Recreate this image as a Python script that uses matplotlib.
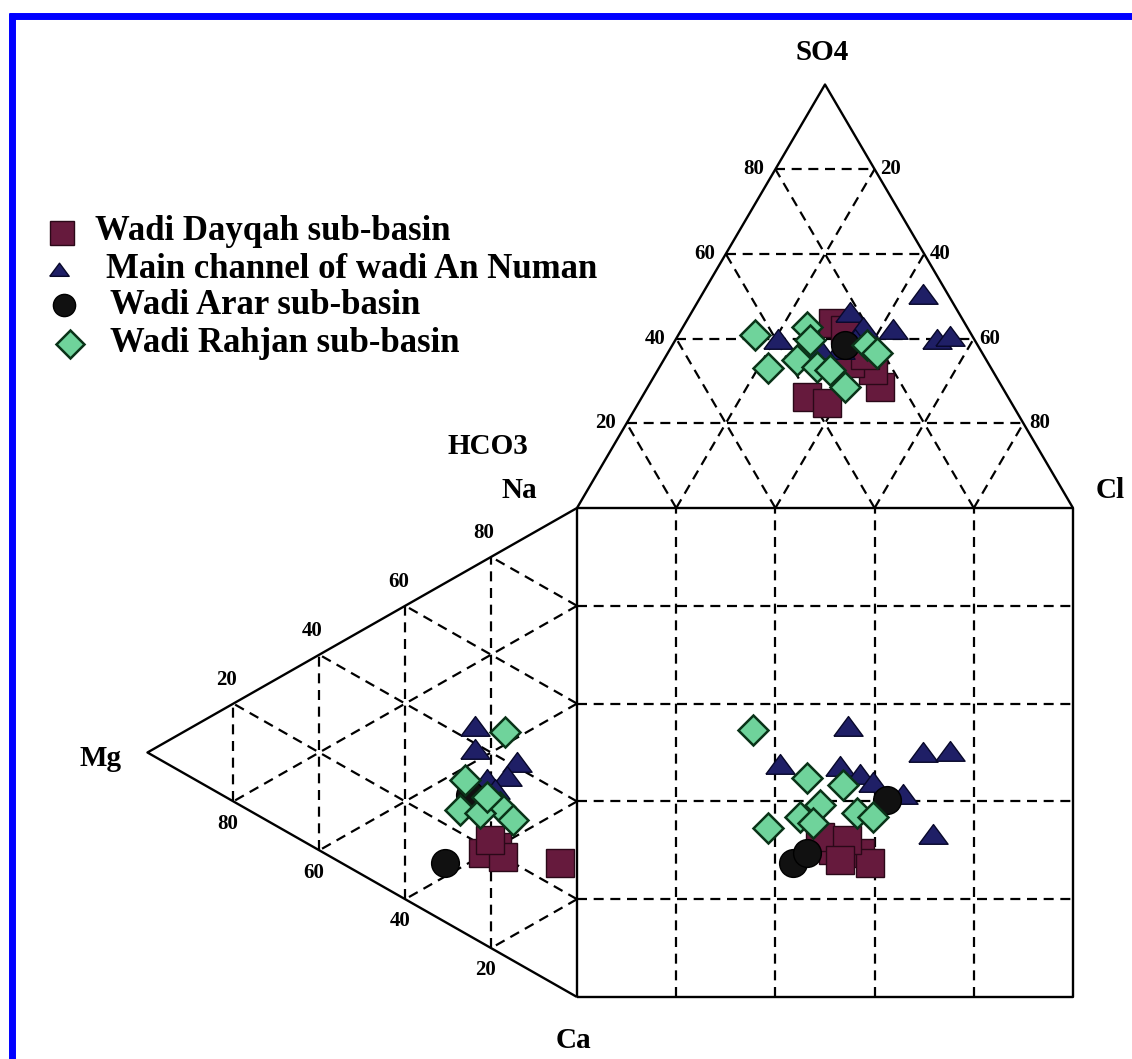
import numpy as np
import matplotlib
matplotlib.use("Agg")
import matplotlib.pyplot as plt
from matplotlib.lines import Line2D

series_names = ["Wadi Dayqah sub-basin", "Main channel of wadi An Numan",
                "Wadi Arar sub-basin", "Wadi Rahjan sub-basin"]

# anion triangle values (SO4 %, Cl %)
dayqah_so4 = [43.7, 26.2, 24.8, 28.6, 32.6, 34.2, 42.0, 36.1]
dayqah_cl = [29.8, 33.3, 38.0, 46.8, 43.4, 37.9, 33.0, 40.0]
numan_so4 = [50.3, 42.0, 39.7, 40.4, 39.7, 46.1, 37.3, 42.5, 39.7, 37.3]
numan_cl = [44.6, 42.7, 52.7, 55.0, 20.6, 32.0, 34.4, 36.4, 36.2, 30.3]
arar_so4 = [38.5]
arar_cl = [34.8]
rahjan_so4 = [40.9, 33.1, 42.7, 39.7, 35.0, 33.3, 28.6, 38.5, 36.6, 32.6]
rahjan_cl = [15.5, 22.0, 25.0, 27.1, 26.9, 31.7, 39.7, 39.2, 42.2, 34.7]

# cation triangle values (Na %, Mg %)
dayqah_na = [21.4, 18.5, 25.4, 20.0, 22.0]
dayqah_mg = [18.6, 21.9, 4.0, 17.2, 20.2]
numan_na = [43.3, 38.6, 40.9, 36.8, 33.9, 32.8]
numan_mg = [23.8, 23.8, 14.0, 16.3, 20.9, 19.1]
arar_na = [12.1, 28.9]
arar_mg = [30.7, 24.9]
rahjan_na = [45.8, 31.3, 24.6, 29.9, 28.7, 26.3, 30.5]
rahjan_mg = [16.8, 26.1, 27.2, 17.9, 14.9, 22.6, 20.9]

# central square values (x %, y %)
dayqah_sx = [51.6, 57.1, 59.1, 49.0, 54.4, 53.0]
dayqah_sy = [30.1, 29.4, 27.4, 32.7, 32.1, 28.0]
numan_sx = [54.6, 69.8, 75.2, 40.9, 71.8, 53.0, 57.1, 65.7, 59.7]
numan_sy = [55.2, 49.9, 50.1, 47.4, 33.1, 47.0, 45.4, 41.3, 43.8]
arar_sx = [43.5, 46.4, 62.5]
arar_sy = [27.4, 29.4, 40.3]
rahjan_sx = [35.5, 46.4, 38.5, 49.0, 45.0, 56.5, 59.7, 53.6, 47.6]
rahjan_sy = [54.6, 44.8, 34.6, 39.3, 36.8, 37.6, 36.8, 43.4, 35.6]

grid_levels = [20, 40, 60, 80]

H = np.sqrt(3) / 2
FONT = "Liberation Serif"


def anion_xy(so4, cl):
    so4 = np.asarray(so4, float)
    cl = np.asarray(cl, float)
    return cl + so4 / 2, 100 + so4 * H


def cation_xy(na, mg):
    na = np.asarray(na, float)
    mg = np.asarray(mg, float)
    return -mg * H, na + mg / 2


# pixel -> diagram units (layout only)
def ux(px):
    return (px - 577) / 4.96


def uy(py):
    return (997 - py) / 4.89


fig = plt.figure(figsize=(11.32, 10.59), dpi=100)
ax = fig.add_axes([0, 0, 1, 1])
ax.set_xlim(ux(0), ux(1132))
ax.set_ylim(uy(1059), uy(0))
ax.axis("off")

solid = dict(color="black", lw=1.7, solid_capstyle="butt", zorder=2)
dashed = dict(color="black", lw=1.6, linestyle=(0, (4.5, 3)), zorder=1)

# outlines
ax.plot([0, 100, 100, 0, 0], [0, 0, 100, 100, 0], **solid)
tx, ty = anion_xy([0, 100, 0], [0, 0, 100])
ax.plot([tx[0], tx[1], tx[2]], [ty[0], ty[1], ty[2]], **solid)
lx, ly = cation_xy([100, 0, 0], [0, 100, 0])
ax.plot([lx[0], lx[1], lx[2]], [ly[0], ly[1], ly[2]], **solid)

for k in grid_levels:
    # square
    ax.plot([k, k], [0, 100], **dashed)
    ax.plot([0, 100], [k, k], **dashed)
    # anion triangle
    x, y = anion_xy([k, k], [0, 100 - k])
    ax.plot(x, y, **dashed)
    x, y = anion_xy([0, 100 - k], [k, k])
    ax.plot(x, y, **dashed)
    x, y = anion_xy([0, 100 - k], [100 - k, 0])
    ax.plot(x, y, **dashed)
    # cation triangle
    x, y = cation_xy([0, 100 - k], [k, k])
    ax.plot(x, y, **dashed)
    x, y = cation_xy([k, k], [0, 100 - k])
    ax.plot(x, y, **dashed)
    x, y = cation_xy([100 - k, 0], [0, 100 - k])
    ax.plot(x, y, **dashed)

    # tick labels
    tfs = 15
    ax.annotate(str(k), anion_xy(k, 0), xytext=(-8, 0), textcoords="offset points",
                ha="right", va="center", fontsize=tfs, fontfamily=FONT, fontweight="bold")
    ax.annotate(str(100 - k), anion_xy(k, 100 - k), xytext=(4, 0), textcoords="offset points",
                ha="left", va="center", fontsize=tfs, fontfamily=FONT, fontweight="bold")
    ax.annotate(str(k), cation_xy(k, 100 - k), xytext=(-5, 17), textcoords="offset points",
                ha="center", va="center", fontsize=tfs, fontfamily=FONT, fontweight="bold")
    ax.annotate(str(k), cation_xy(0, k), xytext=(-4, -16), textcoords="offset points",
                ha="center", va="center", fontsize=tfs, fontfamily=FONT, fontweight="bold")

# corner labels
lab = dict(fontsize=21, fontfamily=FONT, fontweight="bold", ha="center", va="center")
ax.text(ux(822), uy(52), "SO4", **lab)
ax.text(ux(488), uy(447), "HCO3", **lab)
ax.text(ux(519), uy(490), "Na", **lab)
ax.text(ux(1096), uy(490), "Cl", fontsize=21, fontfamily=FONT, fontweight="bold",
        ha="left", va="center")
ax.text(ux(100), uy(758), "Mg", **lab)
ax.text(ux(573), uy(1040), "Ca", **lab)

# markers
tri = [(-1, -0.6), (1, -0.6), (0, 0.75), (-1, -0.6)]
styles = [
    dict(marker="s", ms=20, mfc="#661a3d", mec="#2a0818", mew=1.0),
    dict(marker=tri, ms=21, mfc="#1f1f66", mec="#08082a", mew=1.0),
    dict(marker="o", ms=20, mfc="#111111", mec="#000000", mew=1.0),
    dict(marker="D", ms=15, mfc="#6fd39b", mec="#0a3318", mew=1.8),
]

anion_sets = [(dayqah_so4, dayqah_cl), (numan_so4, numan_cl),
              (arar_so4, arar_cl), (rahjan_so4, rahjan_cl)]
cation_sets = [(dayqah_na, dayqah_mg), (numan_na, numan_mg),
               (arar_na, arar_mg), (rahjan_na, rahjan_mg)]
square_sets = [(dayqah_sx, dayqah_sy), (numan_sx, numan_sy),
               (arar_sx, arar_sy), (rahjan_sx, rahjan_sy)]

order = [1, 0, 2, 3]
for i in order:
    st = styles[i]
    x, y = anion_xy(*anion_sets[i])
    ax.plot(x, y, linestyle="none", zorder=3 + i, **st)
    x, y = cation_xy(*cation_sets[i])
    ax.plot(x, y, linestyle="none", zorder=3 + i, **st)
    ax.plot(square_sets[i][0], square_sets[i][1], linestyle="none", zorder=3 + i, **st)

# legend (hand placed)
leg_marker_px = [(62, 233), (59, 270), (64, 305), (70, 344)]
leg_text_px = [(95, 232), (106, 269), (110, 305), (110, 343)]
leg_ms = [17, 14, 16, 14]
for i in range(4):
    st = dict(styles[i])
    st["ms"] = leg_ms[i]
    mx, my = leg_marker_px[i]
    ax.plot([ux(mx)], [uy(my)], linestyle="none", **st)
    tx_, ty_ = leg_text_px[i]
    ax.text(ux(tx_), uy(ty_), series_names[i], fontsize=25, fontfamily=FONT,
            fontweight="bold", ha="left", va="center")

# blue frame (top and left edges)
fig.add_artist(Line2D([9 / 1132, 1], [1 - 16 / 1059] * 2, color="#0000ff", lw=5,
                      solid_capstyle="butt"))
fig.add_artist(Line2D([12 / 1132] * 2, [0, 1 - 13 / 1059], color="#0000ff", lw=5,
                      solid_capstyle="butt"))

fig.savefig("out.png", dpi=100, facecolor="white")
